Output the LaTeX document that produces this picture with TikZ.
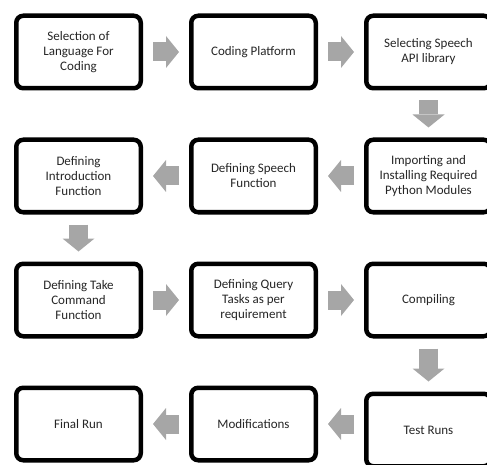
\documentclass[tikz,border=0pt]{standalone}
\usepackage{fontspec}
\setmainfont{Carlito}
\usetikzlibrary{positioning, arrows.meta}
\tikzset{
    stepbox/.style={draw=black, line width=4.5pt, rounded corners=7pt, fill=white,
        minimum width=124.5pt, minimum height=72.5pt, align=center,
        text=black!85, font=\fontsize{13pt}{15pt}\selectfont}, % sets the properties for each box
    node distance=46pt, % space between two boxes in a row
    blockarrow/.style={draw=black!35, line width=19pt,
        -{Triangle[length=13pt, width=32pt, line width=0pt]},
        shorten <=10pt, shorten >=10pt}, % the grey fat arrows
}
\begin{document}
\begin{tikzpicture}
    \useasboundingbox (0,0) rectangle (487pt,-465pt);
    \node[stepbox] at (78.5pt,-52pt) (lang) {Selection of\\Language For\\Coding};
    \node[stepbox, right=of lang] (platform) {Coding Platform};
    \node[stepbox, right=of platform] (api) {Selecting Speech\\API library};
    \node[stepbox, below=47pt of api] (modules) {Importing and\\Installing Required\\Python Modules};
    \node[stepbox, left=of modules] (speech) {Defining Speech\\Function};
    \node[stepbox, left=of speech] (intro) {Defining\\Introduction\\Function};
    \node[stepbox, below=47pt of intro] (take) {Defining Take\\Command\\Function};
    \node[stepbox, right=of take] (query) {Defining Query\\Tasks as per\\requirement};
    \node[stepbox, right=of query] (compile) {Compiling};
    \node[stepbox, below=53pt of compile] (test) {Test Runs};
    \node[stepbox, below=47pt of query] (modif) {Modifications};
    \node[stepbox, left=of modif] (final) {Final Run};
    \draw[blockarrow] (lang) -- (platform);
    \draw[blockarrow] (platform) -- (api);
    \draw[blockarrow] (api) -- (modules);
    \draw[blockarrow] (modules) -- (speech);
    \draw[blockarrow] (speech) -- (intro);
    \draw[blockarrow] (intro) -- (take);
    \draw[blockarrow] (take) -- (query);
    \draw[blockarrow] (query) -- (compile);
    \draw[blockarrow] (compile) -- (test);
    \draw[blockarrow] (test.west |- modif) -- (modif);
    \draw[blockarrow] (modif) -- (final);
\end{tikzpicture}
\end{document}
